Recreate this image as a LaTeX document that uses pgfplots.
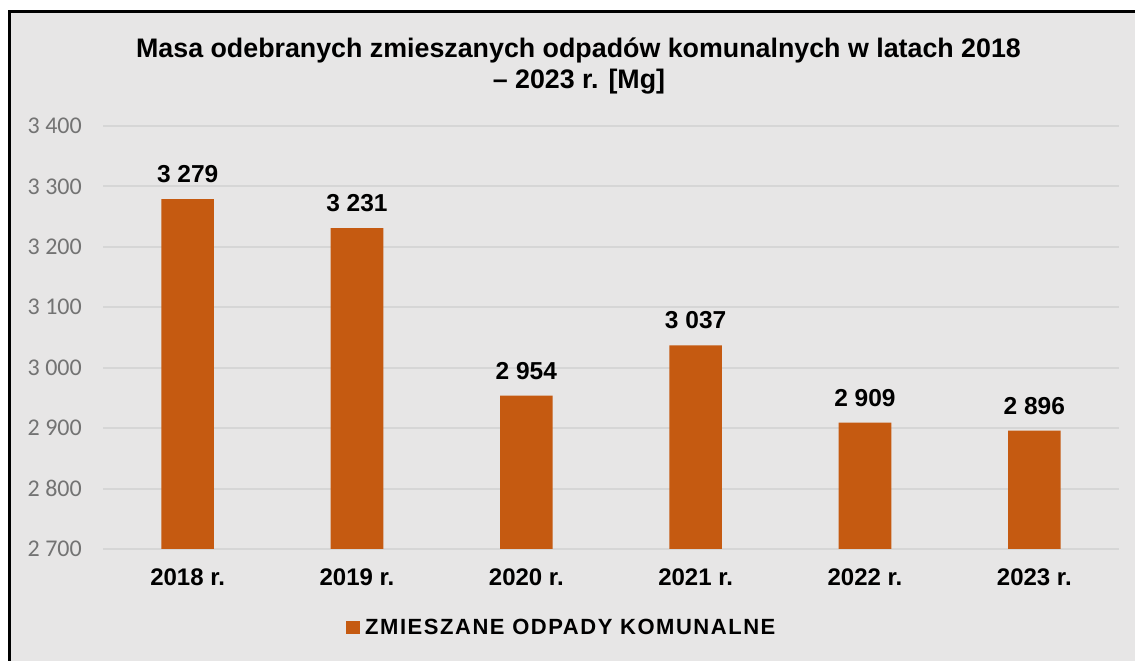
\documentclass[border=0pt]{standalone}
\usepackage{fontspec}
\setmainfont{Liberation Sans}
\newfontfamily\carlito{Carlito}
\usepackage{pgfplots}
\pgfplotsset{compat=1.18}
\definecolor{barc}{HTML}{C55A11}
\definecolor{bg}{HTML}{E7E6E6}
\definecolor{gridc}{HTML}{D6D6D6}
\definecolor{tickc}{HTML}{737373}
\begin{document}
\begin{tikzpicture}[x=1pt,y=1pt]
\useasboundingbox (0,0) rectangle (1135,661);
\fill[white] (0,0) rectangle (1135,661);
\fill[bg] (9.5,0) rectangle (1140,649.5);
\draw[black, line width=3pt] (9.5,-5) -- (9.5,649.5) -- (1140,649.5);
\node[anchor=base, font=\bfseries\fontsize{26.8}{31}\selectfont] at (578.5,603.7) {Masa odebranych zmieszanych odpadów komunalnych w latach 2018};
\node[anchor=base, font=\bfseries\fontsize{26.8}{31}\selectfont] at (579,572.7) {– 2023 r. [Mg]};
\begin{axis}[
  at={(103pt,112pt)}, anchor=south west,
  scale only axis, width=1016pt, height=423pt,
  xmin=-0.5, xmax=5.5, ymin=2700, ymax=3400,
  ytick={2700,2800,...,3400},
  xtick={0,1,2,3,4,5},
  xticklabels={2018 r.,2019 r.,2020 r.,2021 r.,2022 r.,2023 r.},
  axis line style={draw=none},
  major tick length=0pt,
  ymajorgrids, grid style={gridc, line width=2pt},
  /pgf/number format/assume math mode=true,
  /pgf/number format/1000 sep={\ },
  yticklabel style={font=\carlito\fontsize{24}{24}\selectfont, text=tickc, anchor=east, inner sep=0pt, xshift=-21pt},
  xticklabel style={font=\bfseries\fontsize{24}{24}\selectfont, anchor=base, inner sep=0pt, yshift=-37pt},
  ybar, bar width=52.6pt,
  nodes near coords={\pgfmathprintnumber[fixed,precision=0,1000 sep={\ }]{\pgfplotspointmeta}},
  every node near coord/.append style={font=\bfseries\fontsize{24.5}{24.5}\selectfont, anchor=base, inner sep=0pt, yshift=16.5pt},
]
\addplot[fill=barc, draw=none] coordinates {(0,3279) (1,3231) (2,2954) (3,3037) (4,2909) (5,2896)};
\end{axis}
\fill[barc] (346,27) rectangle (359.5,40);
\node[anchor=base west, inner sep=0pt, font=\bfseries\fontsize{22}{22}\selectfont\addfontfeature{LetterSpace=7}] at (365,26) {ZMIESZANE ODPADY KOMUNALNE};
\end{tikzpicture}
\end{document}
